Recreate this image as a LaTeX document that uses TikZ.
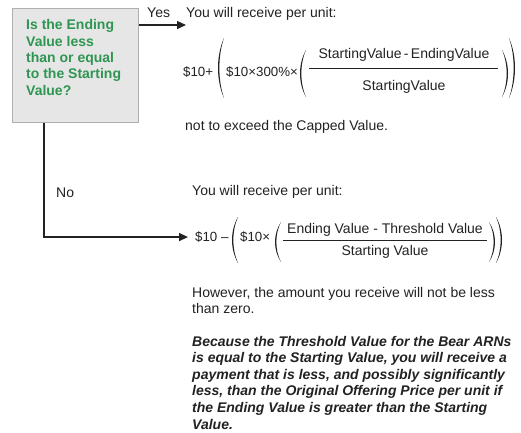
\documentclass[tikz,border=0pt]{standalone}
\usepackage{fontspec}
\setmainfont{Liberation Sans}
\usetikzlibrary{arrows.meta}
\definecolor{boxfill}{RGB}{230,230,230}
\definecolor{boxline}{RGB}{175,175,175}
\definecolor{qgreen}{RGB}{46,150,82}
\definecolor{ink}{RGB}{34,34,34}
% crescent-shaped parentheses: x, top, bottom
\newcommand\LPar[3]{\fill[ink] (#1+7,#2) .. controls (#1-1,#2+0.3*#3-0.3*#2) and (#1-1,#2+0.7*#3-0.7*#2) .. (#1+7,#3)
  .. controls (#1+0.8,#2+0.7*#3-0.7*#2) and (#1+0.8,#2+0.3*#3-0.3*#2) .. cycle;}
\newcommand\RPar[3]{\fill[ink] (#1,#2) .. controls (#1+8,#2+0.3*#3-0.3*#2) and (#1+8,#2+0.7*#3-0.7*#2) .. (#1,#3)
  .. controls (#1+6.2,#2+0.7*#3-0.7*#2) and (#1+6.2,#2+0.3*#3-0.3*#2) .. cycle;}
\begin{document}
\begin{tikzpicture}[x=1pt,y=-1pt,
  body/.style={inner sep=0pt, font=\fontsize{14}{16.6}\selectfont, text=ink, align=left},
  fml/.style={inner sep=0pt, font=\fontsize{13.3}{15}\selectfont, text=ink},
  frac/.style={inner sep=0pt, font=\fontsize{14}{16}\selectfont, text=ink},
  conn/.style={draw=ink, line width=1.4pt, -{Triangle[length=9pt,width=8pt]}},
  bar/.style={draw=ink, line width=0.8pt}]
\useasboundingbox (0,0) rectangle (521,432);
\fill[white] (0,0) rectangle (521,432);

% question box
\node[draw=boxline, fill=boxfill, line width=0.8pt, minimum width=126pt, minimum height=114pt, anchor=north west, inner sep=0pt] (box) at (12,8) {};
\node[anchor=north west, inner sep=0pt, align=left, text=qgreen, font=\bfseries\fontsize{14}{16.3}\selectfont] (q) at (26,19.5) {Is the Ending\\Value less\\than or equal\\to the Starting\\Value?};

% Yes branch
\node[body, anchor=base west] (yes) at (147,17) {Yes};
\node[body, anchor=base west] (y1) at (186,17) {You will receive per unit:};
\coordinate (yesend) at (186,25);
\draw[conn] (box.east |- yesend) -- (yesend);

\node[fml, anchor=base west] (f1a) at (183,76) {\$10+};
\LPar{217}{38}{98}
\node[fml, anchor=base west] (f1b) at (226,76) {\$10×300\%×};
\LPar{299}{50}{97}
\node[frac] (n1) at (404,55) {StartingValue\,-\,EndingValue};
\node[frac] (d1) at (404,87) {StartingValue};
\coordinate (b1l) at (309,68);
\coordinate (b1r) at (498,68);
\draw[bar] (b1l) -- (b1r);
\RPar{502}{50}{97}
\RPar{509}{38}{98}

\node[body, anchor=base west] (y2) at (185,130) {not to exceed the Capped Value.};

% No branch
\node[body, anchor=base west] (no) at (56,197) {No};
\node[body, anchor=base west] (n2) at (192,195) {You will receive per unit:};

\node[fml, anchor=base west] (f2a) at (195,241.5) {\$10 –};
\coordinate (nox) at (44,0);
\draw[conn, shorten >=7pt] (box.south -| nox) |- (f2a.west);
\LPar{231}{217}{263}
\node[fml, anchor=base west] (f2b) at (240,241.5) {\$10×};
\LPar{274}{222}{262}
\node[frac] (n3) at (385,230) {Ending Value - Threshold Value};
\node[frac] (d3) at (385,252) {Starting Value};
\coordinate (b2l) at (283,240);
\coordinate (b2r) at (487,240);
\draw[bar] (b2l) -- (b2r);
\RPar{489}{222}{262}
\RPar{496}{217}{263}

\node[body, anchor=north west] (p1) at (192,286.8) {However, the amount you receive will not be less\\than zero.};
\node[body, anchor=north west, font=\bfseries\itshape\fontsize{14}{16.6}\selectfont] (p2) at (192,335.8) {Because the Threshold Value for the Bear ARNs\\is equal to the Starting Value, you will receive a\\payment that is less, and possibly significantly\\less, than the Original Offering Price per unit if\\the Ending Value is greater than the Starting\\Value.};
\end{tikzpicture}
\end{document}
